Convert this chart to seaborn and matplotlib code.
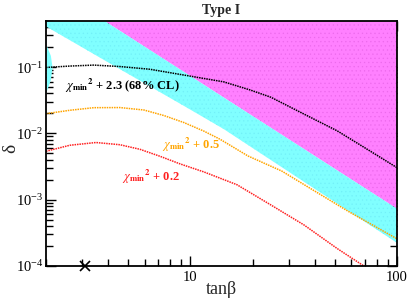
import numpy as np
import pandas as pd
import matplotlib
matplotlib.use("Agg")
import matplotlib.pyplot as plt
import matplotlib.ticker as mticker
import seaborn as sns

# ---------------- data ----------------
band_x = [2.0, 4.35, 9.5, 14.5, 100.0]
band_lower = [0.41, 0.101, 0.025, 0.0116, 2.23e-4]
band_upper = [1.83, 0.386, 0.0809, 0.0347, 7.3e-4]

bulge_y = [0.218, 0.15, 0.10, 0.065, 0.042]
bulge_x = [2.0, 2.1, 2.14, 2.1, 2.0]

black_x = [2.0, 2.61, 3.41, 4.56, 6.37, 9.31, 14.5, 19.43, 24.5, 35.5, 51.4, 71.8, 100.0]
black_y = [0.0986, 0.1035, 0.107, 0.1018, 0.0926, 0.0757, 0.0598, 0.0452, 0.0351,
           0.0195, 0.0109, 0.00575, 0.00304]

orange_x = [2.0, 2.61, 3.41, 4.56, 5.96, 7.45, 9.31, 11.63, 13.9, 19.0, 27.7, 40.1, 58.1, 100.0]
orange_y = [0.0198, 0.0223, 0.0244, 0.0245, 0.0225, 0.01856, 0.01454, 0.0108, 0.00817,
            0.00456, 0.0027, 0.00134, 6.67e-4, 2.57e-4]

red_x = [2.0, 2.61, 3.49, 4.56, 5.7, 7.13, 8.90, 11.63, 16.81, 24.5, 35.5, 51.4, 74.0]
red_y = [0.00537, 0.00662, 0.00728, 0.00674, 0.00575, 0.00451, 0.00347, 0.00262,
         0.00168, 8.34e-4, 4.15e-4, 1.83e-4, 8.7e-5]

best_fit_x = [3.1]
best_fit_y = [1e-4]

xtick_vals = [10, 100]
xtick_labels = ["10", "100"]

labels = [r"$\chi_{\mathbf{min}}{}^{\mathbf{2}}$ + 2.3 (68% CL)",
          r"$\chi_{\mathbf{min}}{}^{\mathbf{2}}$ + 0.5",
          r"$\chi_{\mathbf{min}}{}^{\mathbf{2}}$ + 0.2"]

# ---------------- style ----------------
sns.set_theme(style="ticks")
plt.rcParams["font.family"] = ["Liberation Serif", "DejaVu Serif"]
plt.rcParams["mathtext.fontset"] = "stix"
plt.rcParams["hatch.linewidth"] = 0.4

MAGENTA = "#ff80ff"
CYAN = "#80ffff"

fig = plt.figure(figsize=(4.09, 3.04), dpi=100)
ax = fig.add_axes([46 / 409, 38 / 304, 351 / 409, 245.3 / 304])
ax.set_xscale("log")
ax.set_yscale("log")
ax.set_xlim(2, 100)
ax.set_ylim(1e-4, 0.5)

# excluded regions
ax.fill_between(band_x, band_upper, [10] * len(band_x), facecolor=MAGENTA,
                edgecolor="#ec6aec", hatch="....", linewidth=0, zorder=1)
ax.fill_between(band_x, band_lower, band_upper, facecolor=CYAN,
                edgecolor="#72f0f8", hatch="....", linewidth=0, zorder=1)
ax.fill_betweenx(bulge_y, [2.0] * len(bulge_y), bulge_x, color=CYAN,
                 linewidth=0, zorder=1)

# contour curves
curves = pd.concat([
    pd.DataFrame({"tanb": black_x, "delta": black_y, "c": "a"}),
    pd.DataFrame({"tanb": orange_x, "delta": orange_y, "c": "b"}),
    pd.DataFrame({"tanb": red_x, "delta": red_y, "c": "c"}),
])
sns.lineplot(data=curves, x="tanb", y="delta", hue="c",
             palette={"a": "black", "b": "#ffa500", "c": "#ff2020"},
             linestyle=(0, (1, 0.6)), linewidth=1.1, legend=False,
             sort=False, estimator=None, ax=ax, zorder=3)

ax.plot(best_fit_x, best_fit_y, marker="x", color="black", markersize=7,
        markeredgewidth=1.2, linestyle="none", clip_on=False, zorder=5)

# labels on curves
ax.text(2.47, 0.052, labels[0], color="black", fontsize=9,
        fontweight="bold", va="center", ha="left", zorder=4)
ax.text(7.28, 0.0066, labels[1], color="#ffa500", fontsize=9,
        fontweight="bold", va="center", ha="left", zorder=4)
ax.text(4.66, 0.00224, labels[2], color="#ff2020", fontsize=9,
        fontweight="bold", va="center", ha="left", zorder=4)

# axes & ticks
ax.set_xticks(xtick_vals, labels=xtick_labels)
ax.xaxis.set_minor_locator(mticker.LogLocator(base=10, subs=np.arange(2, 10)))
ax.xaxis.set_minor_formatter(mticker.NullFormatter())
ax.yaxis.set_major_locator(mticker.LogLocator(base=10))
ax.yaxis.set_major_formatter(mticker.LogFormatterMathtext())
ax.yaxis.set_minor_locator(mticker.LogLocator(base=10, subs=np.arange(2, 10)))
ax.yaxis.set_minor_formatter(mticker.NullFormatter())
ax.tick_params(which="both", direction="in", top=True, right=True,
               colors="black", labelsize=10.5, width=1.0)
ax.tick_params(axis="y", which="major", pad=2)
ax.tick_params(which="major", length=7)
ax.tick_params(which="minor", length=5)
for sp in ax.spines.values():
    sp.set_visible(True)
    sp.set_linewidth(1.3)
    sp.set_color("black")
    sp.set_zorder(6)

ax.set_xlabel("tanβ", fontsize=13)
ax.xaxis.set_label_coords(0.5, -0.06)
ax.set_ylabel("δ", fontsize=14, rotation=90, va="center")
ax.yaxis.set_label_coords(-0.1, 0.48)
ax.set_title("Type I", fontsize=10, fontweight="bold", pad=5)

fig.savefig("out.png", dpi=100)
